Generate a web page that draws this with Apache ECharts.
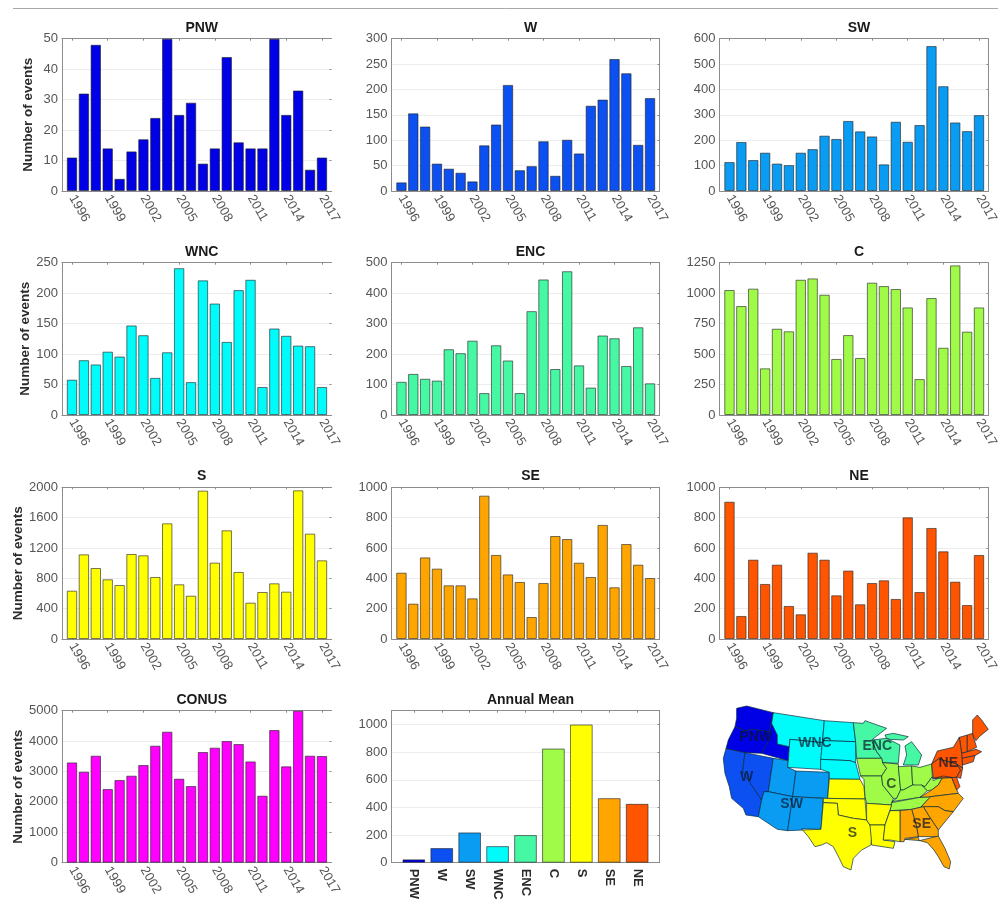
<!DOCTYPE html>
<html>
<head>
<meta charset="utf-8">
<title>Annual events by region</title>
<script src="https://cdn.jsdelivr.net/npm/echarts@6/dist/echarts.min.js"></script>
<style>
html, body { margin: 0; padding: 0; background: #fff; }
#main { width: 1008px; height: 915px; }
</style>
</head>
<body>
<div id="main"></div>
<script>
var years = [1996,1997,1998,1999,2000,2001,2002,2003,2004,2005,2006,2007,2008,2009,2010,2011,2012,2013,2014,2015,2016,2017];
var yearTicks = [1996,1999,2002,2005,2008,2011,2014,2017];

var pnw = [11,32,48,14,4,13,17,24,50,25,29,9,14,44,16,14,14,50,25,33,7,11];
var w = [17,153,127,54,44,36,19,90,131,209,41,49,98,30,101,74,168,180,260,232,91,183];
var sw = [114,193,122,151,108,102,151,165,218,205,276,235,215,105,273,194,260,571,413,270,236,299];
var wnc = [58,90,83,104,96,147,131,61,103,241,54,221,183,120,205,222,46,142,130,114,113,46];
var enc = [109,135,119,113,216,203,244,72,229,179,72,341,445,151,472,163,90,261,252,161,288,104];
var c = [1026,894,1037,383,708,687,1110,1121,987,460,656,468,1086,1058,1034,883,295,960,552,1228,684,883];
var s = [637,1116,936,787,712,1121,1103,818,1525,721,571,1956,1007,1433,884,479,620,734,624,1960,1389,1037];
var se = [437,233,538,464,354,354,268,945,554,426,376,145,369,679,659,503,409,752,341,626,490,402];
var ne = [905,152,523,363,490,218,163,569,523,288,451,229,369,387,264,802,310,732,578,378,224,554];
var conus = [3300,2993,3520,2423,2719,2862,3213,3849,4309,2763,2522,3640,3783,4002,3904,3333,2204,4364,3169,5000,3520,3509];

var regionNames = ['PNW','W','SW','WNC','ENC','C','S','SE','NE'];
var annualMean = [24,106,219,120,200,826,1000,467,426];
var regionColors = ['#0000e6','#0c50f2','#0a9cf2','#00fbfb','#46f7a4','#a0fb48','#ffff00','#ffa500','#ff5500'];

// state outlines, y runs down so it is flipped when the geojson is built
var stateShapes = {
  WA: [[140,55],[170,48],[250,68],[238,125],[190,118],[165,122],[135,110],[140,85]],
  OR: [[135,110],[165,122],[190,118],[238,125],[240,145],[215,190],[165,188],[108,176],[115,150]],
  ID: [[250,68],[238,125],[240,145],[215,190],[295,212],[298,170],[262,162],[262,135],[245,100]],
  CA: [[108,176],[165,188],[158,245],[215,330],[205,380],[168,375],[160,355],[125,325],[118,290],[105,250],[100,205]],
  NV: [[165,188],[250,205],[235,305],[222,305],[215,330],[158,245]],
  UT: [[250,205],[295,212],[293,232],[318,243],[308,320],[235,305]],
  CO: [[318,243],[418,247],[413,325],[308,320]],
  AZ: [[235,305],[308,320],[293,422],[262,418],[205,380],[215,330],[222,305]],
  NM: [[308,320],[400,325],[393,418],[335,416],[338,420],[293,422]],
  MT: [[250,68],[403,92],[397,158],[300,148],[298,170],[262,162],[262,135],[245,100]],
  WY: [[300,148],[397,158],[392,238],[293,232],[295,212],[298,170]],
  ND: [[403,92],[490,98],[497,155],[398,152]],
  SD: [[398,152],[497,155],[497,218],[480,212],[392,208]],
  NB: [[392,208],[480,212],[497,218],[510,268],[418,267],[418,247],[392,238]],
  MN: [[490,98],[520,100],[525,92],[590,115],[545,150],[560,185],[575,205],[500,205],[497,155]],
  WI: [[545,150],[590,145],[630,165],[625,220],[578,218],[575,205],[560,185]],
  UP: [[585,135],[610,130],[655,140],[640,150],[600,148],[590,145]],
  LP: [[645,168],[665,155],[695,195],[685,225],[640,225],[650,195]],
  IA: [[500,205],[575,205],[578,218],[590,235],[575,258],[512,258]],
  MO: [[512,258],[575,258],[578,285],[610,325],[605,345],[530,340],[525,320],[522,268]],
  IL: [[578,218],[625,222],[632,300],[620,325],[610,325],[578,285],[575,258],[590,235]],
  IN: [[625,230],[665,228],[668,285],[640,300],[632,300]],
  OH: [[665,228],[690,232],[725,222],[727,260],[705,290],[668,285]],
  KY: [[605,335],[620,325],[632,300],[640,300],[668,285],[695,285],[712,302],[690,322]],
  WV: [[705,290],[727,260],[730,272],[760,258],[745,285],[725,300],[712,302],[695,285]],
  TN: [[605,338],[690,322],[722,320],[692,352],[665,358],[600,362]],
  VA: [[690,322],[725,300],[745,285],[760,258],[785,262],[805,310],[722,320]],
  NC: [[722,320],[805,310],[820,325],[790,365],[765,362],[745,350],[692,352]],
  SC: [[700,350],[745,350],[765,362],[790,365],[745,420],[715,375]],
  GA: [[665,358],[700,350],[715,375],[745,420],[745,440],[685,440],[680,410]],
  AL: [[630,362],[665,358],[680,410],[685,440],[645,445],[642,455],[630,455]],
  FL: [[645,448],[685,442],[688,452],[745,438],[765,475],[782,515],[778,537],[762,530],[745,500],[732,480],[712,458],[690,452]],
  KS: [[418,267],[510,268],[522,290],[525,327],[413,325]],
  OK: [[400,325],[525,327],[530,390],[490,385],[445,375],[442,340],[400,338]],
  TX: [[400,338],[442,340],[445,375],[490,385],[530,390],[543,410],[545,445],[543,465],[515,480],[490,505],[483,540],[460,530],[448,505],[430,470],[410,458],[395,465],[375,470],[355,440],[338,420],[393,418]],
  AR: [[530,340],[605,345],[585,405],[540,405],[530,390]],
  LA: [[540,405],[585,405],[580,450],[615,455],[610,475],[545,465],[543,435]],
  MS: [[600,362],[630,362],[630,455],[600,450],[580,450],[585,405]],
  ME: [[848,90],[862,75],[875,90],[895,118],[868,140],[858,152],[848,135]],
  VT: [[808,142],[832,135],[832,185],[815,190]],
  NH: [[832,135],[848,130],[850,140],[860,172],[832,185]],
  MA: [[815,190],[858,178],[875,185],[855,197],[815,205]],
  CT: [[815,205],[855,197],[850,215],[818,225]],
  NY: [[742,183],[790,172],[808,142],[815,190],[818,235],[800,222],[745,207],[725,222]],
  PA: [[725,222],[745,207],[800,222],[812,240],[800,262],[730,265]],
  NJ: [[800,222],[818,235],[812,265],[800,262],[812,240]],
  MD: [[730,265],[800,262],[810,290],[800,300],[785,262],[760,258]]
};
var regionStates = {
  PNW: ['WA','OR','ID'],
  W: ['CA','NV'],
  SW: ['UT','CO','AZ','NM'],
  WNC: ['MT','WY','ND','SD','NB'],
  ENC: ['MN','WI','UP','LP'],
  C: ['IA','MO','IL','IN','OH','KY','WV','TN'],
  S: ['KS','OK','TX','AR','LA','MS'],
  SE: ['VA','NC','SC','GA','AL','FL'],
  NE: ['ME','VT','NH','MA','CT','NY','PA','NJ','MD']
};
var mapLabels = [
  ['PNW',197,140],['W',170,262],['WNC',375,160],['SW',305,342],['ENC',562,168],
  ['C',604,282],['NE',775,220],['S',487,428],['SE',695,402]
];

var fontName = '"Liberation Sans", Arial, sans-serif';
var axisGray = '#8c8c8c';
var textGray = '#555';

var colLeft = [62, 391.5, 719.5];
var colWidth = [269.5, 268, 269];
var rowTop = [38.7, 262.7, 487.3, 710.7];
var rowHeight = [152.3, 152.3, 151.7, 152];
var titleY = [27, 251, 475, 699];
var yNameGap = [27, 29, 33, 34];

var panels = [
  { name: 'PNW', data: pnw, color: regionColors[0], max: 50, step: 10, col: 0, row: 0 },
  { name: 'W', data: w, color: regionColors[1], max: 300, step: 50, col: 1, row: 0 },
  { name: 'SW', data: sw, color: regionColors[2], max: 600, step: 100, col: 2, row: 0 },
  { name: 'WNC', data: wnc, color: regionColors[3], max: 250, step: 50, col: 0, row: 1 },
  { name: 'ENC', data: enc, color: regionColors[4], max: 500, step: 100, col: 1, row: 1 },
  { name: 'C', data: c, color: regionColors[5], max: 1250, step: 250, col: 2, row: 1 },
  { name: 'S', data: s, color: regionColors[6], max: 2000, step: 400, col: 0, row: 2 },
  { name: 'SE', data: se, color: regionColors[7], max: 1000, step: 200, col: 1, row: 2 },
  { name: 'NE', data: ne, color: regionColors[8], max: 1000, step: 200, col: 2, row: 2 },
  { name: 'CONUS', data: conus, color: '#ff00ff', max: 5000, step: 1000, col: 0, row: 3 }
];

var option = {
  backgroundColor: '#fff',
  animation: false,
  textStyle: { fontFamily: fontName },
  title: [], grid: [], xAxis: [], yAxis: [], series: [],
  graphic: [{
    type: 'line',
    shape: { x1: 13, y1: 8.5, x2: 998, y2: 8.5 },
    style: { stroke: '#a8a8a8', lineWidth: 1 }
  }]
};

function addPanel(p) {
  var g = option.grid.length;
  var firstCol = p.col === 0;
  option.grid.push({ left: colLeft[p.col], top: rowTop[p.row], width: colWidth[p.col], height: rowHeight[p.row] });
  option.title.push({
    text: p.name,
    left: colLeft[p.col] + colWidth[p.col] / 2,
    top: titleY[p.row] - 11,
    textAlign: 'center',
    textStyle: { fontFamily: fontName, fontSize: 14, fontWeight: 'bold', color: '#1a1a1a' }
  });

  var ticks = p.xTicks || yearTicks;
  var xMin = p.xMin || 1995.16, xMax = p.xMax || 2017.8;
  var lineStyle = { color: axisGray, width: 1 };
  option.xAxis.push({
    type: 'value', gridIndex: g, position: 'bottom', min: xMin, max: xMax,
    splitLine: { show: false },
    axisLine: { show: true, onZero: false, lineStyle: lineStyle },
    axisTick: { show: true, inside: true, length: 2, customValues: ticks, lineStyle: lineStyle },
    axisLabel: {
      customValues: ticks,
      rotate: p.labelRotate || -60,
      margin: p.labelMargin || 5,
      color: p.labelColor || textGray,
      fontFamily: fontName,
      fontWeight: p.labelWeight || 'normal',
      fontSize: 13,
      hideOverlap: false,
      formatter: p.xLabel || function (v) { return String(v); }
    }
  });
  // top edge with its small ticks
  option.xAxis.push({
    type: 'value', gridIndex: g, position: 'top', min: xMin, max: xMax,
    splitLine: { show: false },
    axisLine: { show: true, onZero: false, lineStyle: lineStyle },
    axisTick: { show: true, inside: true, length: 2, customValues: ticks, lineStyle: lineStyle },
    axisLabel: { show: false }
  });
  option.yAxis.push({
    type: 'value', gridIndex: g, position: 'left', min: 0, max: p.max, interval: p.step,
    name: firstCol ? 'Number of events' : '',
    nameLocation: 'middle',
    nameGap: yNameGap[p.row],
    nameTextStyle: { fontFamily: fontName, fontSize: 13.5, fontWeight: 'bold', color: '#2b2b2b' },
    axisLine: { show: true, onZero: false, lineStyle: lineStyle },
    axisTick: { show: false },
    axisLabel: {
      margin: 4, color: textGray, fontFamily: fontName, fontSize: 13,
      showMaxLabel: p.hideMaxLabel ? false : true,
      formatter: function (v) { return String(v); }
    },
    splitLine: { show: true, lineStyle: { color: '#ececec', width: 1 } }
  });
  // right edge, the first column has ticks only
  option.yAxis.push({
    type: 'value', gridIndex: g, position: 'right', min: 0, max: p.max, interval: p.step,
    axisLine: { show: !firstCol, onZero: false, lineStyle: lineStyle },
    axisTick: { show: true, inside: true, length: 2, lineStyle: lineStyle },
    axisLabel: { show: false },
    splitLine: { show: false }
  });

  option.series.push({
    type: 'bar',
    name: p.name,
    xAxisIndex: option.xAxis.length - 2,
    yAxisIndex: option.yAxis.length - 2,
    barWidth: p.barWidth || 10.4,
    itemStyle: { color: p.color, borderColor: 'rgba(30,30,30,0.6)', borderWidth: 1 },
    data: p.points || p.data.map(function (v, i) { return [years[i], v]; })
  });
}

panels.forEach(addPanel);

addPanel({
  name: 'Annual Mean', col: 1, row: 3, max: 1100, step: 200, hideMaxLabel: true,
  xMin: 0.2, xMax: 9.8, barWidth: 22.7,
  xTicks: regionNames.map(function (n, i) { return i + 1; }),
  xLabel: function (v) { return regionNames[v - 1]; },
  labelRotate: -90, labelMargin: 6, labelColor: '#2b2b2b', labelWeight: 'bold',
  points: annualMean.map(function (v, i) {
    return { value: [i + 1, v], itemStyle: { color: regionColors[i] } };
  })
});

// region map
var stateFeatures = Object.keys(stateShapes).map(function (k) {
  return {
    type: 'Feature',
    properties: { name: k },
    geometry: { type: 'Polygon', coordinates: [stateShapes[k].map(function (pt) { return [pt[0], -pt[1]]; })] }
  };
});
echarts.registerMap('regions', { type: 'FeatureCollection', features: stateFeatures });

var stateStyles = [];
regionNames.forEach(function (r, i) {
  regionStates[r].forEach(function (st) {
    stateStyles.push({ name: st, itemStyle: { areaColor: regionColors[i] } });
  });
});

option.geo = {
  map: 'regions',
  silent: true,
  roam: false,
  aspectScale: 1,
  left: 723.3,
  top: 706,
  width: 265,
  height: 164,
  label: { show: false },
  itemStyle: { areaColor: '#ddd', borderColor: 'rgba(5,40,60,0.85)', borderWidth: 0.8 },
  regions: stateStyles
};
option.series.push({
  type: 'scatter',
  coordinateSystem: 'geo',
  symbolSize: 0,
  silent: true,
  data: mapLabels.map(function (m) { return { name: m[0], value: [m[1], -m[2]] }; }),
  label: {
    show: true, position: 'inside', formatter: '{b}',
    fontFamily: fontName, fontSize: 14, fontWeight: 'bold', color: 'rgba(10,20,40,0.88)'
  },
  z: 5
});

var myChart = echarts.init(document.getElementById('main'));
myChart.setOption(option);
</script>
</body>
</html>
